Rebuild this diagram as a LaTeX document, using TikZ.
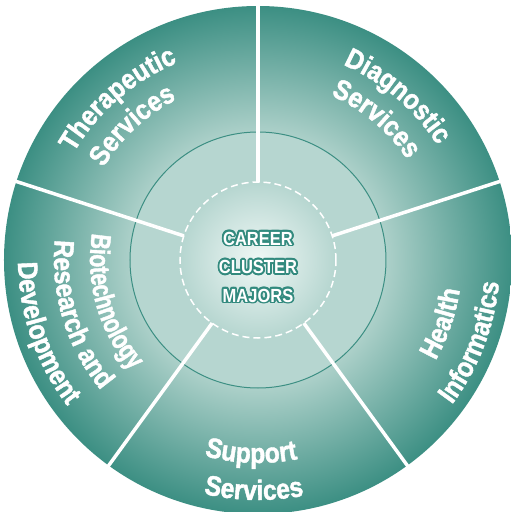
\documentclass[tikz,border=0pt]{standalone}
\usepackage{fontspec}
\usepackage{contour}
\usetikzlibrary{decorations.text}
\setmainfont{Liberation Sans}
\newfontfamily\labelfamily[FakeStretch=0.88,BoldFeatures={FakeBold=1.5}]{Liberation Sans}
\newfontfamily\narrowfamily[FakeStretch=0.76,BoldFeatures={FakeBold=1.5}]{Liberation Sans}
\newfontfamily\hubfamily[FakeStretch=0.87]{Liberation Sans}
\definecolor{ringdark}{RGB}{60,143,131}
\definecolor{ringlight}{RGB}{172,208,201}
\definecolor{midring}{RGB}{182,214,208}
\definecolor{hubwhite}{RGB}{240,248,246}
\definecolor{hubline}{RGB}{50,138,126}
\pgfdeclareradialshading{outerring}{\pgfpoint{0bp}{0bp}}{color(0bp)=(ringlight);
  color(12.6bp)=(ringlight); color(25bp)=(ringdark); color(50bp)=(ringdark)}
\pgfdeclareradialshading{hub}{\pgfpoint{0bp}{0bp}}{color(0bp)=(hubwhite);
  color(25bp)=(midring); color(50bp)=(midring)}
\newcommand{\sectorfont}{\labelfamily\fontsize{28}{28}\selectfont\bfseries}
\newcommand{\squeezefont}{\narrowfamily\fontsize{28}{28}\selectfont\bfseries}
\contourlength{1.8pt}
\tikzset{sector label/.style={decorate,decoration={text along path,text align=center,text color=white}},
  divider/.style={white,line width=3.5}}

\begin{document}
\begin{tikzpicture}[x=1pt,y=1pt]
  \path[fill=white,use as bounding box] (-258,-252) rectangle (253,260);
  \shade[shading=outerring] (0,0) circle (254);
  \filldraw[fill=midring,draw=ringdark,line width=1] (0,0) circle (128);
  \shade[shading=hub] (0,0) circle (78);
  \foreach \a in {90,18,...,-198} \draw[divider] (\a:78) -- (\a:256);
  \draw[white,line width=1.5,dash pattern=on 7 off 4] (0,0) circle (78);
  % upper labels, clockwise
  \path[sector label,decoration={text={|\sectorfont|Therapeutic}}]
    (176:213) arc[start angle=176,end angle=86,radius=213];
  \path[sector label,decoration={text={|\sectorfont|Services}}]
    (178:180) arc[start angle=178,end angle=88,radius=180];
  \path[sector label,decoration={text={|\sectorfont|Diagnostic}}]
    (95:213) arc[start angle=95,end angle=4,radius=213];
  \path[sector label,decoration={text={|\sectorfont|Services}}]
    (95:180) arc[start angle=95,end angle=5,radius=180];
  % lower labels, counterclockwise
  \path[sector label,decoration={text={|\squeezefont|Biotechnology}}]
    (146:168) arc[start angle=146,end angle=246,radius=168];
  \path[sector label,decoration={text={|\sectorfont|Research and}}]
    (147:204) arc[start angle=147,end angle=247,radius=204];
  \path[sector label,decoration={text={|\sectorfont|Development}}]
    (149:240) arc[start angle=149,end angle=249,radius=240];
  \path[sector label,decoration={text={|\sectorfont|Health}}]
    (-69:204) arc[start angle=-69,end angle=31,radius=204];
  \path[sector label,decoration={text={|\sectorfont|Informatics}}]
    (-71:242) arc[start angle=-71,end angle=29,radius=242];
  \path[sector label,decoration={text={|\sectorfont|Support}}]
    (-142:203) arc[start angle=-142,end angle=-42,radius=203];
  \path[sector label,decoration={text={|\sectorfont|Services}}]
    (-141:240) arc[start angle=-141,end angle=-41,radius=240];
  \node[white,font=\hubfamily\fontsize{19}{28.5}\selectfont\bfseries,align=center] (hubtext) at (0,-8)
    {\contour{hubline}{CAREER}\\\contour{hubline}{CLUSTER}\\\contour{hubline}{MAJORS}};
\end{tikzpicture}
\end{document}
